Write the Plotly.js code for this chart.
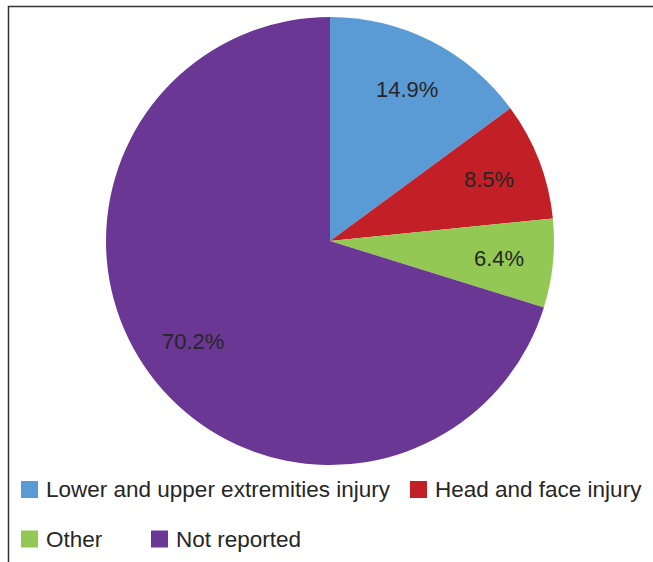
<!DOCTYPE html>
<html>
<head>
<meta charset="utf-8">
<script src="https://cdn.plot.ly/plotly-3.0.1.min.js"></script>
<style>html,body{margin:0;padding:0;background:#fff;}#chart{width:653px;height:562px;}</style>
</head>
<body>
<div id="chart"></div>
<script>
const categories = ["Lower and upper extremities injury", "Head and face injury", "Other", "Not reported"];
const shares = [14.9, 8.5, 6.4, 70.2];
const sliceColors = ["#5B9BD5", "#C21F26", "#92C853", "#6B3795"];

const W = 653, H = 562;
const cx = 330, cy = 241, R = 224;
const FONT = "Liberation Sans, Arial, sans-serif";
const TEXT = "#262626";

const trace = {
  type: "pie",
  labels: categories,
  values: shares,
  sort: false,
  direction: "clockwise",
  rotation: 0,
  marker: {colors: sliceColors, line: {width: 0}},
  textinfo: "none",
  hoverinfo: "label+value",
  showlegend: false,
  domain: {x: [(cx - R) / W, (cx + R) / W], y: [1 - (cy + R) / H, 1 - (cy - R) / H]}
};

// percentage labels placed at each slice's mid-angle, derived from the data
const total = shares.reduce((a, b) => a + b, 0);
const annotations = [];
const labelRadius = 0.76 * R;
let cum = 0;
shares.forEach((v, i) => {
  const mid = (cum + v / 2) / total * 2 * Math.PI;
  cum += v;
  const px = cx + labelRadius * Math.sin(mid);
  const py = cy - labelRadius * Math.cos(mid);
  annotations.push({
    xref: "paper", yref: "paper", x: px / W, y: 1 - py / H,
    xanchor: "center", yanchor: "middle", showarrow: false,
    text: v.toFixed(1) + "%",
    font: {family: FONT, size: 22, color: TEXT}
  });
});

// legend drawn as a two-row key (layout positions only)
const legendRows = [[0, 1], [2, 3]];
const legendRowY = [489.5, 539];
const legendColX = [[21, 410], [21, 151]];
const sw = 17;
const shapes = [{
  type: "rect", xref: "paper", yref: "paper",
  x0: 8.5 / W, x1: 1.2, y0: -0.2, y1: 1 - 6.5 / H,
  line: {color: "#333", width: 1.5}, layer: "below"
}];
legendRows.forEach((row, r) => {
  row.forEach((idx, c) => {
    const x0 = legendColX[r][c], yc = legendRowY[r];
    shapes.push({
      type: "rect", xref: "paper", yref: "paper",
      x0: x0 / W, x1: (x0 + sw) / W,
      y0: 1 - (yc + sw / 2) / H, y1: 1 - (yc - sw / 2) / H,
      fillcolor: sliceColors[idx], line: {width: 0}
    });
    annotations.push({
      xref: "paper", yref: "paper",
      x: (x0 + sw + 6) / W, y: 1 - yc / H,
      xanchor: "left", yanchor: "middle", showarrow: false,
      text: categories[idx],
      font: {family: FONT, size: 22.5, color: TEXT}
    });
  });
});

const layout = {
  width: W, height: H,
  margin: {l: 0, r: 0, t: 0, b: 0},
  paper_bgcolor: "#fff",
  font: {family: FONT, color: TEXT},
  showlegend: false,
  shapes: shapes,
  annotations: annotations
};

Plotly.newPlot("chart", [trace], layout, {displayModeBar: false, staticPlot: true});
</script>
</body>
</html>
